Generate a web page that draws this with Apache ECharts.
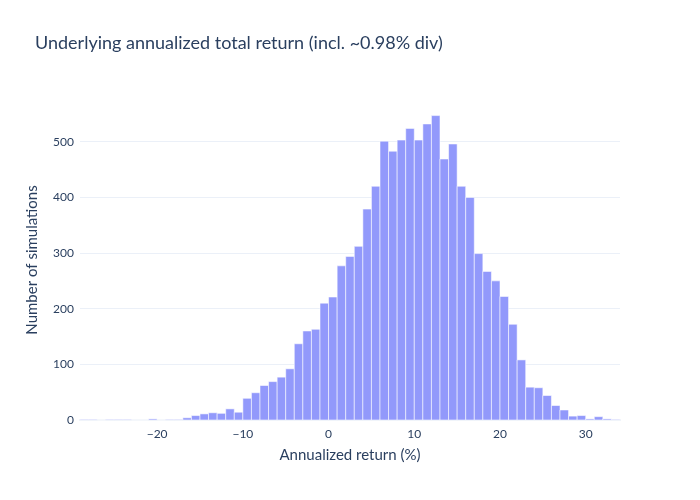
<!DOCTYPE html>
<html>
<head>
<meta charset="utf-8">
<script src="https://cdn.jsdelivr.net/npm/echarts@6/dist/echarts.min.js"></script>
<style>
  html, body { margin: 0; padding: 0; background: #fff; }
  #chart { width: 700px; height: 500px; }
</style>
</head>
<body>
<div id="chart"></div>
<script>
// histogram bins: each bin is [start, start + binWidth)
var binWidth = 1;
var binStarts = [];
for (var b = -29; b <= 33; b++) binStarts.push(b);

var counts = [
    1, 1, 0, 1, 1, 1, 0, 0, 2, 0,        // -29 .. -20
    1, 1, 4, 8, 11, 13, 12, 20, 14, 39,   // -19 .. -10
    49, 62, 69, 77, 92, 137, 160, 163, 210, // -9 .. -1
    221, 277, 294, 312, 379, 420, 501, 483, 503, 524, // 0 .. 9
    503, 532, 547, 469, 496, 420, 400, 299, 267, 250, // 10 .. 19
    222, 172, 108, 59, 58, 44, 26, 18, 7, 8,          // 20 .. 29
    2, 6, 2, 1                                        // 30 .. 33
];

var xTicks = [-20, -10, 0, 10, 20, 30];
var yTicks = [0, 100, 200, 300, 400, 500];
var titleText = 'Underlying annualized total return (incl. ~0.98% div)';
var xTitle = 'Annualized return (%)';
var yTitle = 'Number of simulations';

var textColor = '#2a3f5f';
var gridColor = '#EBF0F8';
var fontName = 'Lato';

var histData = binStarts.map(function (s, i) {
    return [s, s + binWidth, counts[i]];
});

var dom = document.getElementById('chart');
var myChart = echarts.init(dom);

var option = {
    animation: false,
    backgroundColor: '#fff',
    textStyle: { fontFamily: fontName },
    title: {
        text: titleText,
        left: 35,
        top: 34,
        padding: 0,
        textStyle: { fontFamily: fontName, fontSize: 18, fontWeight: 'normal', color: textColor }
    },
    grid: { left: 80, right: 80, top: 100, bottom: 80 },
    xAxis: {
        type: 'value',
        min: binStarts[0],
        max: binStarts[binStarts.length - 1] + binWidth,
        name: xTitle,
        nameLocation: 'middle',
        nameGap: 28,
        nameTextStyle: { fontSize: 15, color: textColor },
        splitLine: { show: false },
        axisLine: { show: true, lineStyle: { color: gridColor, width: 2 } },
        axisTick: { show: false },
        axisLabel: {
            customValues: xTicks,
            color: textColor,
            fontSize: 12,
            margin: 8,
            formatter: function (v) { return String(v).replace('-', '\u2212'); }
        }
    },
    yAxis: {
        type: 'value',
        min: 0,
        max: 575,
        interval: 100,
        name: yTitle,
        nameLocation: 'middle',
        nameGap: 40,
        nameTextStyle: { fontSize: 15, color: textColor },
        axisLine: { show: false },
        axisTick: { show: false },
        axisLabel: { customValues: yTicks, color: textColor, fontSize: 12, margin: 6 },
        splitLine: { show: true, showMaxLine: false, lineStyle: { color: gridColor, width: 1 } }
    },
    series: [{
        type: 'custom',
        data: histData,
        encode: { x: [0, 1], y: 2 },
        renderItem: function (params, api) {
            var p0 = api.coord([api.value(0), 0]);
            var p1 = api.coord([api.value(1), api.value(2)]);
            return {
                type: 'rect',
                shape: { x: p0[0], y: p1[1], width: p1[0] - p0[0], height: p0[1] - p1[1] },
                style: { fill: '#9299fb', stroke: 'rgba(255,255,255,0.55)', lineWidth: 1 }
            };
        }
    }]
};

myChart.setOption(option);
</script>
</body>
</html>
